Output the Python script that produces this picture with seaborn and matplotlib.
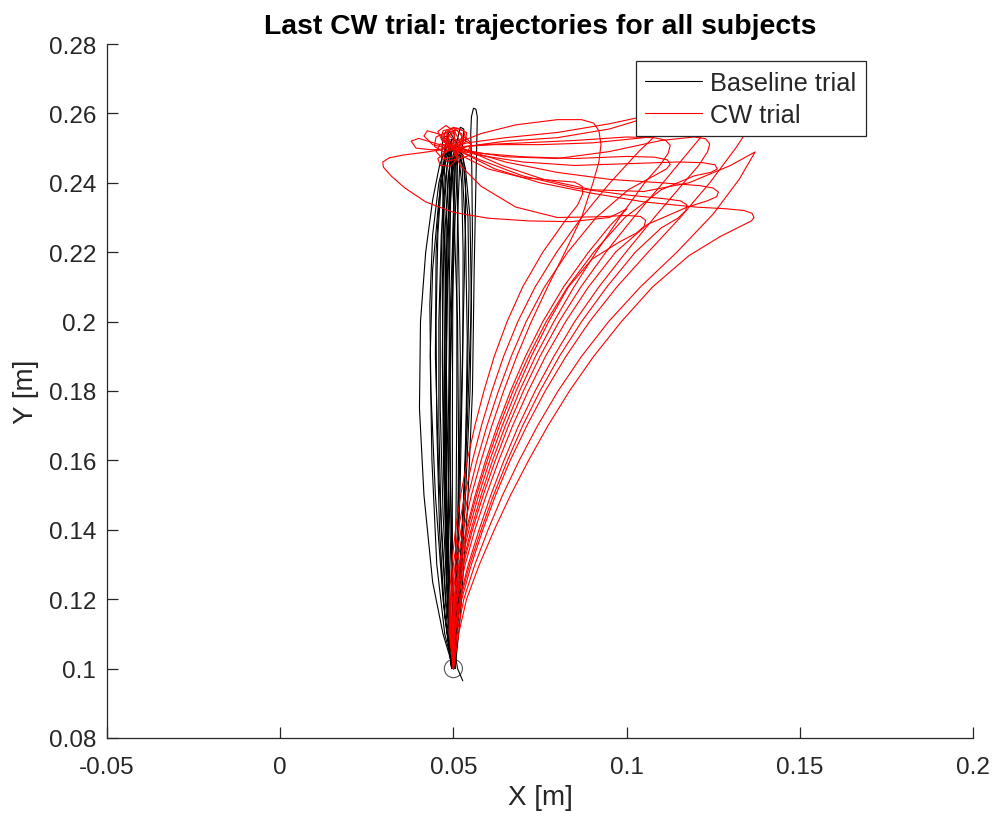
import numpy as np
import pandas as pd
import matplotlib
matplotlib.use("Agg")
import matplotlib.pyplot as plt
from matplotlib.lines import Line2D
from matplotlib.ticker import FixedLocator, FuncFormatter
import seaborn as sns

# ---------------------------------------------------------------------------
# Hand-path samples (x, y) in metres, one list per subject
# ---------------------------------------------------------------------------
baseline_paths = [
    [(0.0500, 0.1000), (0.0470, 0.1100), (0.0440, 0.1250), (0.0415, 0.1500), (0.0402, 0.1750), (0.0405, 0.2000),
     (0.0420, 0.2200), (0.0440, 0.2350), (0.0460, 0.2450), (0.0480, 0.2505), (0.0495, 0.2510), (0.0502, 0.2480),
     (0.0500, 0.2300), (0.0490, 0.2000), (0.0485, 0.1700), (0.0485, 0.1400), (0.0490, 0.1150), (0.0500, 0.1000)],
    [(0.0500, 0.1000), (0.0510, 0.1150), (0.0525, 0.1400), (0.0540, 0.1700), (0.0550, 0.2000), (0.0555, 0.2250),
     (0.0553, 0.2450), (0.0550, 0.2540), (0.0552, 0.2590), (0.0558, 0.2615), (0.0565, 0.2612), (0.0569, 0.2590),
     (0.0568, 0.2540), (0.0565, 0.2400), (0.0560, 0.2150), (0.0555, 0.1800), (0.0540, 0.1450), (0.0520, 0.1150),
     (0.0505, 0.1000)],
    [(0.0495, 0.1000), (0.0480, 0.1150), (0.0465, 0.1400), (0.0458, 0.1700), (0.0458, 0.2000), (0.0465, 0.2250),
     (0.0478, 0.2420), (0.0490, 0.2500), (0.0502, 0.2505), (0.0510, 0.2450), (0.0515, 0.2200), (0.0520, 0.1900),
     (0.0518, 0.1600), (0.0510, 0.1300), (0.0500, 0.1050)],
    [(0.0500, 0.1000), (0.0490, 0.1200), (0.0478, 0.1500), (0.0470, 0.1800), (0.0468, 0.2100), (0.0472, 0.2300),
     (0.0482, 0.2450), (0.0495, 0.2525), (0.0508, 0.2520), (0.0512, 0.2460), (0.0505, 0.2300), (0.0495, 0.2000),
     (0.0488, 0.1700), (0.0485, 0.1400), (0.0490, 0.1150), (0.0500, 0.1000)],
    [(0.0505, 0.1000), (0.0500, 0.1200), (0.0492, 0.1500), (0.0488, 0.1800), (0.0488, 0.2100), (0.0492, 0.2350),
     (0.0500, 0.2480), (0.0512, 0.2510), (0.0525, 0.2450), (0.0535, 0.2250), (0.0540, 0.1950), (0.0535, 0.1600),
     (0.0520, 0.1250), (0.0505, 0.1020)],
    [(0.0495, 0.1000), (0.0470, 0.1200), (0.0448, 0.1500), (0.0435, 0.1800), (0.0432, 0.2050), (0.0440, 0.2250),
     (0.0458, 0.2400), (0.0478, 0.2480), (0.0488, 0.2500), (0.0480, 0.2470), (0.0465, 0.2400), (0.0455, 0.2250),
     (0.0450, 0.2000), (0.0452, 0.1700), (0.0460, 0.1400), (0.0475, 0.1150), (0.0495, 0.1000)],
    [(0.0500, 0.1000), (0.0515, 0.1200), (0.0530, 0.1500), (0.0540, 0.1800), (0.0545, 0.2100), (0.0542, 0.2300),
     (0.0530, 0.2440), (0.0512, 0.2505), (0.0495, 0.2490), (0.0486, 0.2420), (0.0480, 0.2300), (0.0476, 0.2100),
     (0.0475, 0.1850), (0.0475, 0.1550), (0.0480, 0.1250), (0.0490, 0.1050)],
    [(0.0500, 0.1000), (0.0485, 0.1150), (0.0470, 0.1450), (0.0462, 0.1750), (0.0462, 0.2050), (0.0468, 0.2300),
     (0.0475, 0.2450), (0.0478, 0.2520), (0.0488, 0.2548), (0.0500, 0.2530), (0.0505, 0.2470), (0.0500, 0.2250),
     (0.0492, 0.1950), (0.0490, 0.1650), (0.0495, 0.1300), (0.0500, 0.1050)],
    [(0.0500, 0.1000), (0.0505, 0.1200), (0.0508, 0.1500), (0.0510, 0.1800), (0.0510, 0.2100), (0.0512, 0.2300),
     (0.0518, 0.2450), (0.0528, 0.2520), (0.0530, 0.2555), (0.0520, 0.2560), (0.0508, 0.2510), (0.0500, 0.2300),
     (0.0498, 0.2000), (0.0497, 0.1700), (0.0497, 0.1400), (0.0498, 0.1100)],
    [(0.0527, 0.0965), (0.0512, 0.1000), (0.0495, 0.1100), (0.0480, 0.1350), (0.0472, 0.1650), (0.0475, 0.1950),
     (0.0480, 0.2200), (0.0490, 0.2400), (0.0503, 0.2490), (0.0515, 0.2480), (0.0524, 0.2400), (0.0528, 0.2200),
     (0.0527, 0.1900), (0.0520, 0.1550), (0.0510, 0.1200), (0.0500, 0.1020)],
    [(0.0500, 0.1000), (0.0478, 0.1200), (0.0458, 0.1550), (0.0448, 0.1900), (0.0450, 0.2200), (0.0462, 0.2400),
     (0.0478, 0.2495), (0.0492, 0.2520), (0.0495, 0.2480), (0.0485, 0.2420), (0.0472, 0.2200), (0.0468, 0.1900),
     (0.0472, 0.1550), (0.0482, 0.1250), (0.0495, 0.1030)],
    [(0.0500, 0.1000), (0.0520, 0.1200), (0.0535, 0.1500), (0.0548, 0.1800), (0.0552, 0.2050), (0.0548, 0.2300),
     (0.0535, 0.2440), (0.0518, 0.2505), (0.0502, 0.2500), (0.0496, 0.2450), (0.0502, 0.2300), (0.0512, 0.2000),
     (0.0515, 0.1650), (0.0512, 0.1300), (0.0505, 0.1050)],
    [(0.0498, 0.1000), (0.0488, 0.1200), (0.0480, 0.1500), (0.0478, 0.1800), (0.0482, 0.2100), (0.0488, 0.2350),
     (0.0490, 0.2480), (0.0482, 0.2535), (0.0470, 0.2530), (0.0466, 0.2480), (0.0472, 0.2300), (0.0480, 0.2000),
     (0.0478, 0.1700), (0.0482, 0.1350), (0.0492, 0.1050)],
    [(0.0502, 0.1000), (0.0498, 0.1150), (0.0490, 0.1400), (0.0482, 0.1700), (0.0478, 0.2000), (0.0482, 0.2250),
     (0.0495, 0.2420), (0.0512, 0.2495), (0.0528, 0.2480), (0.0535, 0.2400), (0.0535, 0.2300), (0.0532, 0.2150),
     (0.0525, 0.1850), (0.0515, 0.1500), (0.0505, 0.1150)],
    [(0.0500, 0.1000), (0.0475, 0.1100), (0.0452, 0.1300), (0.0438, 0.1600), (0.0433, 0.1900), (0.0440, 0.2150),
     (0.0458, 0.2350), (0.0475, 0.2460), (0.0490, 0.2500), (0.0495, 0.2450), (0.0490, 0.2300), (0.0482, 0.2050),
     (0.0478, 0.1700), (0.0482, 0.1350), (0.0492, 0.1050)],
]

cw_paths = [
    [(0.0500, 0.1000), (0.0515, 0.1100), (0.0538, 0.1200), (0.0575, 0.1300), (0.0618, 0.1400), (0.0665, 0.1500),
     (0.0717, 0.1600), (0.0773, 0.1700), (0.0835, 0.1800), (0.0905, 0.1900), (0.0985, 0.2000), (0.1075, 0.2100),
     (0.1180, 0.2190), (0.1270, 0.2245), (0.1330, 0.2275), (0.1360, 0.2290), (0.1368, 0.2300), (0.1362, 0.2312),
     (0.1340, 0.2320), (0.1290, 0.2325), (0.1200, 0.2330), (0.1050, 0.2345), (0.0900, 0.2370), (0.0750, 0.2400),
     (0.0620, 0.2440), (0.0540, 0.2480), (0.0490, 0.2505), (0.0465, 0.2528), (0.0470, 0.2550), (0.0500, 0.2558),
     (0.0525, 0.2540), (0.0520, 0.2512), (0.0498, 0.2500)],
    [(0.0500, 0.1000), (0.0510, 0.1100), (0.0530, 0.1200), (0.0562, 0.1300), (0.0600, 0.1400), (0.0642, 0.1500),
     (0.0690, 0.1600), (0.0743, 0.1700), (0.0802, 0.1800), (0.0870, 0.1900), (0.0948, 0.2000), (0.1040, 0.2100),
     (0.1145, 0.2200), (0.1250, 0.2310), (0.1325, 0.2410), (0.1371, 0.2489), (0.1300, 0.2450), (0.1180, 0.2400),
     (0.1050, 0.2375), (0.0900, 0.2380), (0.0760, 0.2410), (0.0640, 0.2450), (0.0560, 0.2485), (0.0515, 0.2505),
     (0.0535, 0.2525), (0.0530, 0.2550), (0.0500, 0.2560), (0.0472, 0.2540), (0.0478, 0.2510), (0.0502, 0.2498)],
    [(0.0500, 0.1000), (0.0505, 0.1100), (0.0524, 0.1200), (0.0552, 0.1300), (0.0585, 0.1400), (0.0622, 0.1500),
     (0.0664, 0.1600), (0.0712, 0.1700), (0.0765, 0.1800), (0.0825, 0.1900), (0.0893, 0.2000), (0.0972, 0.2100),
     (0.1062, 0.2200), (0.1155, 0.2300), (0.1240, 0.2400), (0.1315, 0.2500), (0.1368, 0.2580), (0.1330, 0.2590),
     (0.1200, 0.2560), (0.1050, 0.2530), (0.0900, 0.2515), (0.0750, 0.2510), (0.0620, 0.2510), (0.0530, 0.2505),
     (0.0480, 0.2490), (0.0455, 0.2470), (0.0462, 0.2450), (0.0490, 0.2448), (0.0512, 0.2470), (0.0505, 0.2498)],
    [(0.0500, 0.1000), (0.0502, 0.1100), (0.0518, 0.1200), (0.0543, 0.1300), (0.0574, 0.1400), (0.0608, 0.1500),
     (0.0646, 0.1600), (0.0688, 0.1700), (0.0736, 0.1800), (0.0790, 0.1900), (0.0850, 0.2000), (0.0920, 0.2100),
     (0.0998, 0.2200), (0.1080, 0.2300), (0.1165, 0.2400), (0.1208, 0.2450), (0.1234, 0.2490), (0.1240, 0.2512),
     (0.1228, 0.2527), (0.1195, 0.2532), (0.1100, 0.2522), (0.0950, 0.2490), (0.0800, 0.2470), (0.0650, 0.2475),
     (0.0550, 0.2490), (0.0505, 0.2500), (0.0480, 0.2520), (0.0482, 0.2545), (0.0510, 0.2552), (0.0528, 0.2530),
     (0.0515, 0.2505)],
    [(0.0500, 0.1000), (0.0500, 0.1100), (0.0512, 0.1200), (0.0534, 0.1300), (0.0562, 0.1400), (0.0595, 0.1500),
     (0.0631, 0.1600), (0.0671, 0.1700), (0.0716, 0.1800), (0.0766, 0.1900), (0.0824, 0.2000), (0.0890, 0.2100),
     (0.0968, 0.2200), (0.1060, 0.2280), (0.1175, 0.2330), (0.1233, 0.2348), (0.1260, 0.2360), (0.1265, 0.2373),
     (0.1250, 0.2385), (0.1210, 0.2392), (0.1100, 0.2400), (0.0950, 0.2410), (0.0800, 0.2430), (0.0650, 0.2460),
     (0.0550, 0.2490), (0.0500, 0.2505), (0.0462, 0.2512), (0.0450, 0.2490), (0.0470, 0.2468), (0.0500, 0.2475),
     (0.0510, 0.2500)],
    [(0.0500, 0.1000), (0.0498, 0.1100), (0.0507, 0.1200), (0.0526, 0.1300), (0.0551, 0.1400), (0.0580, 0.1500),
     (0.0613, 0.1600), (0.0650, 0.1700), (0.0691, 0.1800), (0.0737, 0.1900), (0.0790, 0.2000), (0.0848, 0.2100),
     (0.0912, 0.2200), (0.0980, 0.2300), (0.1052, 0.2400), (0.1096, 0.2450), (0.1120, 0.2485), (0.1126, 0.2508),
     (0.1112, 0.2523), (0.1080, 0.2530), (0.1000, 0.2532), (0.0850, 0.2522), (0.0700, 0.2515), (0.0580, 0.2510),
     (0.0510, 0.2500), (0.0470, 0.2490), (0.0445, 0.2505), (0.0450, 0.2532), (0.0478, 0.2545), (0.0500, 0.2525),
     (0.0495, 0.2502)],
    [(0.0500, 0.1000), (0.0497, 0.1100), (0.0504, 0.1200), (0.0521, 0.1300), (0.0545, 0.1400), (0.0573, 0.1500),
     (0.0605, 0.1600), (0.0641, 0.1700), (0.0681, 0.1800), (0.0725, 0.1900), (0.0775, 0.2000), (0.0832, 0.2100),
     (0.0900, 0.2180), (0.0980, 0.2230), (0.1028, 0.2255), (0.1051, 0.2275), (0.1055, 0.2292), (0.1040, 0.2303),
     (0.1000, 0.2306), (0.0920, 0.2302), (0.0800, 0.2300), (0.0680, 0.2330), (0.0580, 0.2390), (0.0520, 0.2450),
     (0.0500, 0.2490), (0.0508, 0.2520), (0.0535, 0.2532), (0.0552, 0.2512), (0.0540, 0.2488), (0.0512, 0.2490)],
    [(0.0500, 0.1000), (0.0495, 0.1100), (0.0501, 0.1200), (0.0516, 0.1300), (0.0537, 0.1400), (0.0563, 0.1500),
     (0.0593, 0.1600), (0.0627, 0.1700), (0.0665, 0.1800), (0.0708, 0.1900), (0.0758, 0.2000), (0.0818, 0.2100),
     (0.0890, 0.2200), (0.0955, 0.2280), (0.1001, 0.2325), (0.0950, 0.2300), (0.0840, 0.2288), (0.0720, 0.2290),
     (0.0600, 0.2298), (0.0500, 0.2315), (0.0420, 0.2345), (0.0360, 0.2385), (0.0320, 0.2420), (0.0298, 0.2445),
     (0.0296, 0.2460), (0.0315, 0.2472), (0.0355, 0.2480), (0.0410, 0.2487), (0.0465, 0.2495), (0.0490, 0.2510),
     (0.0485, 0.2535), (0.0505, 0.2545), (0.0518, 0.2520), (0.0500, 0.2502)],
    [(0.0500, 0.1000), (0.0493, 0.1100), (0.0497, 0.1200), (0.0510, 0.1300), (0.0529, 0.1400), (0.0552, 0.1500),
     (0.0580, 0.1600), (0.0611, 0.1700), (0.0645, 0.1800), (0.0683, 0.1900), (0.0725, 0.2000), (0.0772, 0.2100),
     (0.0822, 0.2200), (0.0870, 0.2300), (0.0903, 0.2400), (0.0920, 0.2460), (0.0926, 0.2510), (0.0920, 0.2550),
     (0.0905, 0.2572), (0.0870, 0.2582), (0.0800, 0.2582), (0.0680, 0.2567), (0.0580, 0.2542), (0.0520, 0.2518),
     (0.0490, 0.2500), (0.0468, 0.2482), (0.0480, 0.2462), (0.0508, 0.2468), (0.0512, 0.2495)],
    [(0.0500, 0.1000), (0.0491, 0.1100), (0.0494, 0.1200), (0.0505, 0.1300), (0.0522, 0.1400), (0.0543, 0.1500),
     (0.0568, 0.1600), (0.0597, 0.1700), (0.0630, 0.1800), (0.0667, 0.1900), (0.0710, 0.2000), (0.0763, 0.2100),
     (0.0830, 0.2200), (0.0912, 0.2300), (0.1005, 0.2380), (0.1088, 0.2425), (0.1115, 0.2440), (0.1126, 0.2453),
     (0.1118, 0.2466), (0.1080, 0.2474), (0.1000, 0.2476), (0.0850, 0.2470), (0.0700, 0.2475), (0.0580, 0.2485),
     (0.0510, 0.2500), (0.0535, 0.2518), (0.0538, 0.2545), (0.0510, 0.2558), (0.0485, 0.2535), (0.0490, 0.2508)],
    [(0.0500, 0.1000), (0.0490, 0.1100), (0.0491, 0.1200), (0.0500, 0.1300), (0.0514, 0.1400), (0.0533, 0.1500),
     (0.0555, 0.1600), (0.0581, 0.1700), (0.0611, 0.1800), (0.0645, 0.1900), (0.0686, 0.2000), (0.0736, 0.2100),
     (0.0798, 0.2200), (0.0870, 0.2300), (0.0952, 0.2400), (0.1035, 0.2490), (0.1098, 0.2550), (0.1130, 0.2590),
     (0.1090, 0.2600), (0.0950, 0.2570), (0.0800, 0.2545), (0.0650, 0.2530), (0.0540, 0.2515), (0.0480, 0.2500),
     (0.0440, 0.2510), (0.0415, 0.2535), (0.0425, 0.2550), (0.0460, 0.2540), (0.0495, 0.2515)],
    [(0.0500, 0.1000), (0.0488, 0.1100), (0.0488, 0.1200), (0.0495, 0.1300), (0.0506, 0.1400), (0.0521, 0.1500),
     (0.0540, 0.1600), (0.0562, 0.1700), (0.0588, 0.1800), (0.0618, 0.1900), (0.0655, 0.2000), (0.0700, 0.2100),
     (0.0758, 0.2200), (0.0822, 0.2290), (0.0858, 0.2335), (0.0873, 0.2368), (0.0872, 0.2390), (0.0850, 0.2402),
     (0.0800, 0.2406), (0.0700, 0.2415), (0.0600, 0.2440), (0.0530, 0.2475), (0.0495, 0.2500), (0.0470, 0.2525),
     (0.0478, 0.2550), (0.0500, 0.2548), (0.0505, 0.2515)],
    [(0.0500, 0.1000), (0.0496, 0.1100), (0.0502, 0.1200), (0.0518, 0.1300), (0.0540, 0.1400), (0.0567, 0.1500),
     (0.0598, 0.1600), (0.0633, 0.1700), (0.0672, 0.1800), (0.0717, 0.1900), (0.0768, 0.2000), (0.0830, 0.2100),
     (0.0905, 0.2200), (0.0995, 0.2300), (0.1100, 0.2380), (0.1195, 0.2420), (0.1243, 0.2430), (0.1262, 0.2440),
     (0.1255, 0.2452), (0.1220, 0.2458), (0.1150, 0.2460), (0.1000, 0.2455), (0.0850, 0.2450), (0.0700, 0.2460),
     (0.0570, 0.2480), (0.0460, 0.2510), (0.0400, 0.2528), (0.0378, 0.2520), (0.0392, 0.2500), (0.0440, 0.2495),
     (0.0480, 0.2498)],
    [(0.0500, 0.1000), (0.0499, 0.1100), (0.0509, 0.1200), (0.0529, 0.1300), (0.0555, 0.1400), (0.0586, 0.1500),
     (0.0621, 0.1600), (0.0659, 0.1700), (0.0702, 0.1800), (0.0750, 0.1900), (0.0805, 0.2000), (0.0868, 0.2100),
     (0.0940, 0.2200), (0.1020, 0.2300), (0.1105, 0.2400), (0.1188, 0.2500), (0.1255, 0.2580), (0.1285, 0.2630),
     (0.1240, 0.2640), (0.1100, 0.2600), (0.0950, 0.2555), (0.0800, 0.2530), (0.0650, 0.2520), (0.0540, 0.2505),
     (0.0500, 0.2490), (0.0520, 0.2470), (0.0548, 0.2480), (0.0552, 0.2510), (0.0530, 0.2525), (0.0505, 0.2510)],
    [(0.0500, 0.1000), (0.0503, 0.1100), (0.0520, 0.1200), (0.0547, 0.1300), (0.0580, 0.1400), (0.0616, 0.1500),
     (0.0656, 0.1600), (0.0700, 0.1700), (0.0750, 0.1800), (0.0806, 0.1900), (0.0870, 0.2000), (0.0943, 0.2100),
     (0.1025, 0.2200), (0.1100, 0.2270), (0.1148, 0.2298), (0.1171, 0.2320), (0.1174, 0.2337), (0.1155, 0.2348),
     (0.1110, 0.2354), (0.1000, 0.2365), (0.0850, 0.2385), (0.0700, 0.2420), (0.0580, 0.2465), (0.0510, 0.2495),
     (0.0468, 0.2520), (0.0455, 0.2548), (0.0478, 0.2565), (0.0505, 0.2548), (0.0500, 0.2515)],
]

trial_names = ["Baseline trial", "CW trial"]
trial_colors = ["#000000", "#ff0000"]

ring_x = [0.05, 0.05]      # start and target centres
ring_y = [0.10, 0.25]

x_ticks = [-0.05, 0, 0.05, 0.1, 0.15, 0.2]
y_ticks = [0.08, 0.10, 0.12, 0.14, 0.16, 0.18, 0.20, 0.22, 0.24, 0.26, 0.28]

# ---------------------------------------------------------------------------
# Long-form table: one row per sample
# ---------------------------------------------------------------------------
rows = []
for subj, (base, cw) in enumerate(zip(baseline_paths, cw_paths)):
    for name, path in ((trial_names[0], base), (trial_names[1], cw)):
        for step, (xv, yv) in enumerate(path):
            rows.append({"subject": subj, "trial": name, "step": step, "x": xv, "y": yv})
df = pd.DataFrame(rows)

sns.set_theme(style="ticks")
plt.rcParams["font.family"] = ["Liberation Sans", "DejaVu Sans"]
plt.rcParams["axes.edgecolor"] = "#262626"
plt.rcParams["xtick.color"] = "#262626"
plt.rcParams["ytick.color"] = "#262626"

fig = plt.figure(figsize=(10.01, 8.2), dpi=100)
ax = fig.add_axes([107 / 1001, 1 - 739 / 820, 866 / 1001, 694 / 820])

sns.lineplot(
    data=df, x="x", y="y", hue="trial", units="subject", estimator=None,
    sort=False, palette=dict(zip(trial_names, trial_colors)),
    linewidth=0.8, legend=False, ax=ax,
)
for ln in ax.lines:
    ln.set_solid_joinstyle("round")

# start and target rings
rings = pd.DataFrame({"x": ring_x, "y": ring_y})
sns.scatterplot(data=rings, x="x", y="y", s=170, facecolors="none",
                edgecolors="#555555", linewidth=0.8, ax=ax, zorder=1)

ax.set_xlim(-0.05, 0.2)
ax.set_ylim(0.08, 0.28)
ax.xaxis.set_major_locator(FixedLocator(x_ticks))
ax.yaxis.set_major_locator(FixedLocator(y_ticks))
fmt = FuncFormatter(lambda v, _: f"{v:g}")
ax.xaxis.set_major_formatter(fmt)
ax.yaxis.set_major_formatter(fmt)
ax.tick_params(direction="in", length=8, width=0.9, labelsize=17.5)
ax.tick_params(axis="x", pad=13)
ax.tick_params(axis="y", pad=8)

for side in ("top", "right"):
    ax.spines[side].set_visible(False)
for side in ("left", "bottom"):
    ax.spines[side].set_linewidth(0.9)

ax.set_xlabel("X [m]", fontsize=20, color="#262626", labelpad=4)
ax.set_ylabel("Y [m]", fontsize=20, color="#262626", labelpad=7)
ax.set_title("Last CW trial: trajectories for all subjects",
             fontsize=20.4, fontweight="bold", color="black", pad=8)

handles = [Line2D([], [], color=c, linewidth=0.8) for c in trial_colors]
leg = ax.legend(handles, trial_names, loc="upper right",
                bbox_to_anchor=((866 - 107) / 866, (739 - 62) / 694),
                fontsize=18.3, frameon=True, fancybox=False, framealpha=1,
                edgecolor="#262626", borderpad=0.38, labelspacing=0.32,
                handlelength=2.25, handletextpad=0.3, borderaxespad=0)
leg.get_frame().set_linewidth(0.9)

fig.savefig("out.png", dpi=100)
